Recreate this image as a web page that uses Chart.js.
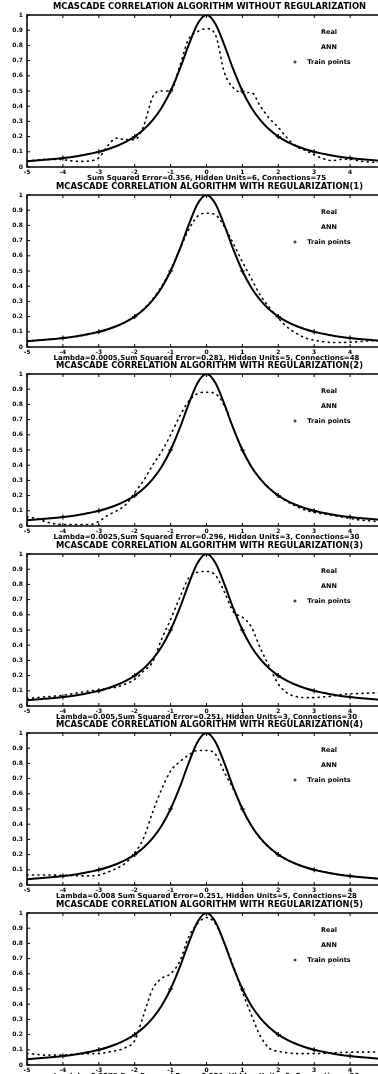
<!DOCTYPE html>
<html>
<head>
<meta charset="utf-8">
<script src="https://cdn.jsdelivr.net/npm/chart.js@4.4.0/dist/chart.umd.min.js"></script>
<style>
html, body { margin: 0; padding: 0; background: #fff; width: 378px; height: 1074px; overflow: hidden; }
canvas { position: absolute; left: 0; }
</style>
</head>
<body>
<script>
// x positions of the curves (step 0.25)
const xGrid = [-5, -4.75, -4.5, -4.25, -4, -3.75, -3.5, -3.25, -3, -2.75,
               -2.5, -2.25, -2, -1.75, -1.5, -1.25, -1, -0.75, -0.5, -0.25,
               0,
               0.25, 0.5, 0.75, 1, 1.25, 1.5, 1.75, 2, 2.25, 2.5,
               2.75, 3, 3.25, 3.5, 3.75, 4, 4.25, 4.5, 4.75, 5];

// target curve (solid)
const realY = [0.038, 0.042, 0.047, 0.053, 0.059, 0.066, 0.075, 0.087, 0.1, 0.117,
               0.138, 0.165, 0.2, 0.246, 0.308, 0.39, 0.5, 0.64, 0.8, 0.941,
               1,
               0.941, 0.8, 0.64, 0.5, 0.39, 0.308, 0.246, 0.2, 0.165, 0.138,
               0.117, 0.1, 0.087, 0.075, 0.066, 0.059, 0.053, 0.047, 0.042, 0.038];

// network output per panel (dotted)
const ann1 = [0.04, 0.045, 0.05, 0.05, 0.048, 0.04, 0.037, 0.04, 0.06, 0.14,
              0.19, 0.18, 0.18, 0.27, 0.46, 0.5, 0.5, 0.66, 0.84, 0.89,
              0.91,
              0.87, 0.62, 0.52, 0.49, 0.49, 0.4, 0.32, 0.26, 0.19, 0.135,
              0.11, 0.08, 0.055, 0.042, 0.05, 0.052, 0.04, 0.033, 0.03, 0.028];
const ann2 = [0.04, 0.043, 0.048, 0.053, 0.058, 0.065, 0.074, 0.085, 0.098, 0.115,
              0.136, 0.163, 0.2, 0.25, 0.315, 0.4, 0.505, 0.64, 0.77, 0.86,
              0.88,
              0.87, 0.79, 0.68, 0.56, 0.45, 0.34, 0.26, 0.19, 0.13, 0.09,
              0.06, 0.045, 0.035, 0.03, 0.03, 0.032, 0.035, 0.04, 0.042, 0.045];
const ann3 = [0.06, 0.05, 0.03, 0.015, 0.01, 0.01, 0.01, 0.01, 0.03, 0.07,
              0.1, 0.14, 0.22, 0.3, 0.4, 0.49, 0.6, 0.72, 0.82, 0.87,
              0.88,
              0.87, 0.79, 0.64, 0.5, 0.39, 0.31, 0.25, 0.2, 0.16, 0.13,
              0.105, 0.09, 0.08, 0.07, 0.06, 0.05, 0.04, 0.035, 0.03, 0.025];
const ann4 = [0.05, 0.055, 0.06, 0.065, 0.07, 0.08, 0.09, 0.1, 0.105, 0.115,
              0.125, 0.145, 0.175, 0.23, 0.29, 0.44, 0.57, 0.71, 0.84, 0.88,
              0.885,
              0.86, 0.75, 0.62, 0.585, 0.52, 0.38, 0.26, 0.145, 0.085, 0.062,
              0.055, 0.055, 0.06, 0.065, 0.075, 0.08, 0.082, 0.085, 0.087, 0.088];
const ann5 = [0.065, 0.066, 0.066, 0.065, 0.064, 0.062, 0.06, 0.06, 0.065, 0.085,
              0.11, 0.145, 0.21, 0.31, 0.48, 0.63, 0.75, 0.81, 0.855, 0.885,
              0.885,
              0.86, 0.74, 0.63, 0.5, 0.39, 0.305, 0.245, 0.2, 0.165, 0.138,
              0.117, 0.1, 0.087, 0.076, 0.066, 0.059, 0.053, 0.047, 0.042, 0.038];
const ann6 = [0.075, 0.07, 0.065, 0.065, 0.065, 0.07, 0.072, 0.075, 0.075, 0.085,
              0.095, 0.115, 0.16, 0.33, 0.5, 0.57, 0.6, 0.68, 0.84, 0.93,
              0.97,
              0.93, 0.8, 0.65, 0.48, 0.33, 0.19, 0.11, 0.09, 0.08, 0.075,
              0.075, 0.075, 0.077, 0.08, 0.082, 0.084, 0.085, 0.085, 0.086, 0.087];

// training points (+)
const trainX = [-5, -4, -3, -2, -1, 0, 1, 2, 3, 4, 5];
const trainY = [0.038, 0.059, 0.1, 0.2, 0.5, 1, 0.5, 0.2, 0.1, 0.059, 0.038];

const titles = [
  'MCASCADE CORRELATION ALGORITHM WITHOUT REGULARIZATION',
  'MCASCADE CORRELATION ALGORITHM WITH REGULARIZATION(1)',
  'MCASCADE CORRELATION ALGORITHM WITH REGULARIZATION(2)',
  'MCASCADE CORRELATION ALGORITHM WITH REGULARIZATION(3)',
  'MCASCADE CORRELATION ALGORITHM WITH REGULARIZATION(4)',
  'MCASCADE CORRELATION ALGORITHM WITH REGULARIZATION(5)'
];
const notes = [
  'Sum Squared Error=0.356, Hidden Units=6, Connections=75',
  'Lambda=0.0005,Sum Squared Error=0.281, Hidden Units=5, Connections=48',
  'Lambda=0.0025,Sum Squared Error=0.296, Hidden Units=3, Connections=30',
  'Lambda=0.005,Sum Squared Error=0.251, Hidden Units=3, Connections=30',
  'Lambda=0.008 Sum Squared Error=0.251, Hidden Units=5, Connections=28',
  'Lambda=0.0075 Sum Squared Error=0.221, Hidden Units=3, Connections=30'
];
const legendLabels = ['Real', 'ANN', 'Train points'];
const annSeries = [ann1, ann2, ann3, ann4, ann5, ann6];

function pts(xs, ys) {
  return xs.map((x, i) => ({ x: x, y: ys[i] }));
}

// frame, inward ticks, title, x note and legend
const framePlugin = {
  id: 'frame',
  afterDraw(chart, args, opts) {
    const ctx = chart.ctx;
    const a = chart.chartArea;
    const sx = chart.scales.x, sy = chart.scales.y;
    ctx.save();
    ctx.strokeStyle = '#000';
    ctx.lineWidth = 1.5;
    ctx.strokeRect(a.left, a.top, a.right - a.left, a.bottom - a.top);

    ctx.lineWidth = 1;
    ctx.beginPath();
    sx.ticks.forEach(t => {
      const px = sx.getPixelForValue(t.value);
      ctx.moveTo(px, a.bottom); ctx.lineTo(px, a.bottom - 3);
      ctx.moveTo(px, a.top); ctx.lineTo(px, a.top + 3);
    });
    sy.ticks.forEach(t => {
      const py = sy.getPixelForValue(t.value);
      ctx.moveTo(a.left, py); ctx.lineTo(a.left + 3, py);
    });
    ctx.stroke();

    ctx.fillStyle = '#000';
    ctx.textAlign = 'center';
    ctx.textBaseline = 'middle';
    const cx = (a.left + a.right) / 2;
    ctx.font = 'bold 8.4px "DejaVu Sans"';
    ctx.fillText(opts.title, cx + 3, a.top - 8);
    ctx.font = 'bold 7px "DejaVu Sans"';
    ctx.fillText(opts.note, cx, a.bottom + 11);

    ctx.font = 'bold 6.5px "DejaVu Sans"';
    legendLabels.forEach((lab, i) => {
      ctx.fillText(lab, 329, a.top + 17 + i * 15);
    });
    // marker sample for the training points
    const my = a.top + 47, mx = 295;
    ctx.beginPath();
    ctx.moveTo(mx - 1.5, my); ctx.lineTo(mx + 1.5, my);
    ctx.moveTo(mx, my - 1.5); ctx.lineTo(mx, my + 1.5);
    ctx.stroke();
    ctx.restore();
  }
};

const tickFont = { family: 'DejaVu Sans', size: 6, weight: 'bold' };

annSeries.forEach((ann, i) => {
  const cv = document.createElement('canvas');
  cv.width = 392;
  cv.height = 186;
  cv.style.top = Math.round(i * 179.6) + 'px';
  document.body.appendChild(cv);

  new Chart(cv.getContext('2d'), {
    type: 'line',
    data: {
      datasets: [
        {
          label: legendLabels[0],
          data: pts(xGrid, realY),
          borderColor: '#000',
          borderWidth: 2,
          pointRadius: 0,
          cubicInterpolationMode: 'monotone'
        },
        {
          label: legendLabels[1],
          data: pts(xGrid, ann),
          borderColor: '#000',
          borderWidth: 1.6,
          borderDash: [1, 4.5],
          borderCapStyle: 'round',
          pointRadius: 0,
          cubicInterpolationMode: 'monotone'
        },
        {
          label: legendLabels[2],
          data: pts(trainX, trainY),
          showLine: false,
          pointStyle: 'cross',
          pointRadius: 2.5,
          borderColor: '#000',
          borderWidth: 1.2
        }
      ]
    },
    options: {
      responsive: false,
      animation: false,
      layout: { padding: { top: 15, right: 6, left: 0, bottom: 0 } },
      scales: {
        x: {
          type: 'linear',
          min: -5,
          max: 5,
          grid: { display: false, drawTicks: false },
          border: { display: false },
          ticks: { stepSize: 1, autoSkip: false, color: '#000', font: tickFont, padding: 2, maxRotation: 0 },
          afterFit: s => { s.height = 19; }
        },
        y: {
          min: 0,
          max: 1,
          grid: { display: false, drawTicks: false },
          border: { display: false },
          ticks: {
            stepSize: 0.1,
            autoSkip: false,
            color: '#000',
            font: tickFont,
            padding: 4,
            callback: v => String(Number(v.toFixed(1)))
          },
          afterFit: s => { s.width = 27; }
        }
      },
      plugins: {
        legend: { display: false },
        tooltip: { enabled: false },
        frame: { title: titles[i], note: notes[i] }
      }
    },
    plugins: [framePlugin]
  });
});
</script>
</body>
</html>
